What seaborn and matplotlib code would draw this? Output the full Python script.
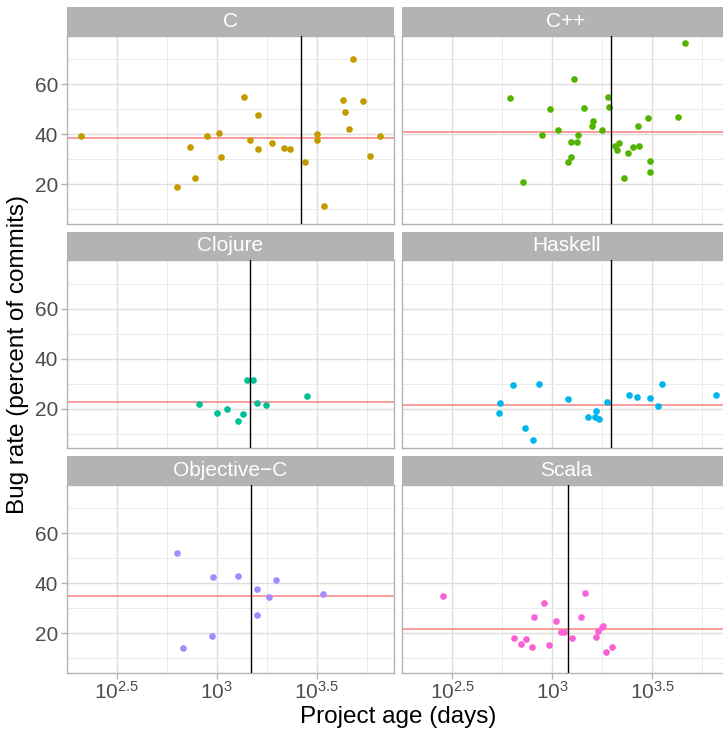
import numpy as np
import pandas as pd
import seaborn as sns
import matplotlib
matplotlib.use("Agg")
import matplotlib.pyplot as plt
from matplotlib.ticker import FixedLocator, FixedFormatter, NullFormatter

sns.set_theme(style="white")
plt.rcParams["font.family"] = ["Liberation Sans", "DejaVu Sans"]
plt.rcParams["mathtext.fontset"] = "custom"
plt.rcParams["mathtext.rm"] = "Liberation Sans"
plt.rcParams["mathtext.it"] = "Liberation Sans:italic"

languages = ["C", "C++", "Clojure", "Haskell", "Objective\u2212C", "Scala"]
colors = ["#C49A00", "#53B400", "#00C094", "#00B6EB", "#A58AFF", "#FB61D7"]

# project age as log10(days), bug rate in percent of commits
c_age = [2.322, 2.800, 2.867, 2.892, 2.950, 3.013, 3.022, 3.137, 3.167, 3.205,
         3.205, 3.278, 3.335, 3.365, 3.440, 3.503, 3.503, 3.535, 3.632, 3.643,
         3.662, 3.683, 3.730, 3.765, 3.817]
c_bug = [39.1, 18.8, 34.9, 22.4, 39.1, 40.3, 30.7, 54.9, 37.7, 47.7,
         34.1, 36.5, 34.5, 34.0, 28.7, 39.9, 37.7, 11.1, 53.7, 48.7,
         42.0, 70.0, 53.3, 31.2, 39.1]

cpp_age = [3.662, 3.110, 2.790, 3.280, 3.285, 2.987, 3.158, 3.205, 3.197, 3.480,
           3.630, 3.427, 3.028, 3.247, 2.950, 3.127, 3.095, 3.123, 3.335, 3.315,
           3.322, 3.432, 3.405, 3.378, 3.093, 3.078, 3.488, 3.488, 3.357, 2.855]
cpp_bug = [76.3, 61.9, 54.5, 54.7, 50.9, 50.1, 50.4, 45.3, 43.3, 46.3,
           46.7, 43.1, 41.6, 41.5, 39.5, 39.7, 36.9, 36.9, 36.4, 35.1,
           33.5, 35.1, 34.7, 32.5, 30.9, 28.7, 29.2, 24.9, 22.5, 20.9]

clojure_age = [2.910, 3.003, 3.053, 3.108, 3.133, 3.153, 3.183, 3.202, 3.247, 3.452]
clojure_bug = [21.7, 18.4, 20.0, 15.1, 18.0, 31.3, 31.6, 22.4, 21.3, 25.2]

haskell_age = [2.737, 2.732, 2.803, 2.933, 2.862, 2.903, 3.077, 3.177, 3.220,
               3.213, 3.232, 3.273, 3.382, 3.422, 3.488, 3.528, 3.548, 3.817]
haskell_bug = [22.3, 18.1, 29.6, 30.0, 12.3, 7.6, 24.0, 16.7, 19.1,
               16.8, 16.0, 22.7, 25.6, 24.8, 24.4, 21.1, 29.9, 25.6]

objc_age = [2.802, 2.982, 3.108, 3.298, 3.203, 3.262, 3.533, 3.200, 2.978, 2.830]
objc_bug = [51.9, 42.4, 42.9, 41.2, 37.6, 34.3, 35.5, 27.3, 18.7, 14.0]

scala_age = [2.452, 3.163, 2.958, 2.907, 3.143, 3.020, 3.253, 3.250, 3.043, 3.060,
             3.228, 3.218, 3.100, 2.807, 2.867, 2.843, 2.898, 2.983, 3.300, 3.270]
scala_bug = [34.7, 35.9, 32.0, 26.5, 26.4, 24.9, 22.9, 22.4, 20.4, 20.4,
             20.7, 18.4, 17.9, 18.0, 17.7, 15.5, 14.5, 15.3, 14.3, 12.3]

# reference lines per language
ref_age = [3.422, 3.295, 3.168, 3.292, 3.173, 3.080]
ref_bug = [38.5, 40.7, 22.5, 21.5, 34.7, 21.5]

x_ticks = [2.5, 3.0, 3.5]
x_tick_labels = [r"$10^{2.5}$", r"$10^{3}$", r"$10^{3.5}$"]
y_ticks = [20, 40, 60]

ages = [c_age, cpp_age, clojure_age, haskell_age, objc_age, scala_age]
bugs = [c_bug, cpp_bug, clojure_bug, haskell_bug, objc_bug, scala_bug]
frames = []
for lang, a, b in zip(languages, ages, bugs):
    frames.append(pd.DataFrame({"language": lang, "age": 10 ** np.array(a), "bug": b}))
df = pd.concat(frames, ignore_index=True)

W, H = 723, 734
fig = plt.figure(figsize=(W / 100, H / 100), dpi=100)
fig.patch.set_facecolor("white")

col_x = [66.7, 402.3]
row_top = [35.7, 260.0, 484.7]
pw, ph, sh = 327.6, 188.3, 28.5
grey70 = "#B3B3B3"

for i, lang in enumerate(languages):
    r, c = divmod(i, 2)
    left = col_x[c] / W
    bottom = 1 - (row_top[r] + ph) / H
    ax = fig.add_axes([left, bottom, pw / W, ph / H])
    strip = fig.add_axes([left, 1 - row_top[r] / H, pw / W, sh / H])

    sub = df[df["language"] == lang]
    sns.scatterplot(data=sub, x="age", y="bug", color=colors[i], s=23,
                    linewidth=0, ax=ax, legend=False, zorder=3)
    ax.axhline(ref_bug[i], color="#F88080", lw=1.1, zorder=2)
    ax.axvline(10 ** ref_age[i], color="black", lw=1.0, zorder=4)

    ax.set_xscale("log")
    ax.set_xlim(10 ** 2.25, 10 ** 3.888)
    ax.set_ylim(4.1, 79.4)
    ax.xaxis.set_major_locator(FixedLocator(10 ** np.array(x_ticks)))
    ax.xaxis.set_minor_locator(FixedLocator(10 ** np.array([2.25, 2.75, 3.25, 3.75])))
    ax.yaxis.set_major_locator(FixedLocator(y_ticks))
    ax.yaxis.set_minor_locator(FixedLocator([10, 30, 50, 70]))
    ax.xaxis.set_minor_formatter(NullFormatter())
    ax.yaxis.set_minor_formatter(NullFormatter())

    if r == 2:
        ax.xaxis.set_major_formatter(FixedFormatter(x_tick_labels))
        ax.tick_params(axis="x", which="major", length=4, width=1, color=grey70,
                       labelsize=15, labelcolor="#4D4D4D", pad=2)
    else:
        ax.xaxis.set_major_formatter(NullFormatter())
        ax.tick_params(axis="x", which="major", length=0)
    if c == 0:
        ax.tick_params(axis="y", which="major", length=4, width=1, color=grey70,
                       labelsize=15, labelcolor="#4D4D4D", pad=2)
    else:
        ax.yaxis.set_major_formatter(NullFormatter())
        ax.tick_params(axis="y", which="major", length=0)
    ax.tick_params(which="minor", length=0)
    ax.tick_params(axis="x", bottom=True)
    ax.tick_params(axis="y", left=True)

    ax.set_axisbelow(True)
    ax.grid(which="major", color="#DEDEDE", lw=1.0)
    ax.grid(which="minor", color="#EBEBEB", lw=0.7)
    for sp in ax.spines.values():
        sp.set_color(grey70)
        sp.set_linewidth(1.0)
    ax.set_xlabel("")
    ax.set_ylabel("")

    strip.set_facecolor(grey70)
    strip.set_xticks([])
    strip.set_yticks([])
    for sp in strip.spines.values():
        sp.set_visible(False)
    strip.text(0.5, 0.5, lang, color="white", fontsize=15, ha="center", va="center",
               transform=strip.transAxes)

fig.text(18 / W, 1 - 354 / H, "Bug rate (percent of commits)", rotation=90,
         fontsize=17.5, ha="center", va="center", color="black")
fig.text(398 / W, 1 - 717 / H, "Project age (days)", fontsize=17.5,
         ha="center", va="center", color="black")

fig.savefig("out.png", dpi=100)
